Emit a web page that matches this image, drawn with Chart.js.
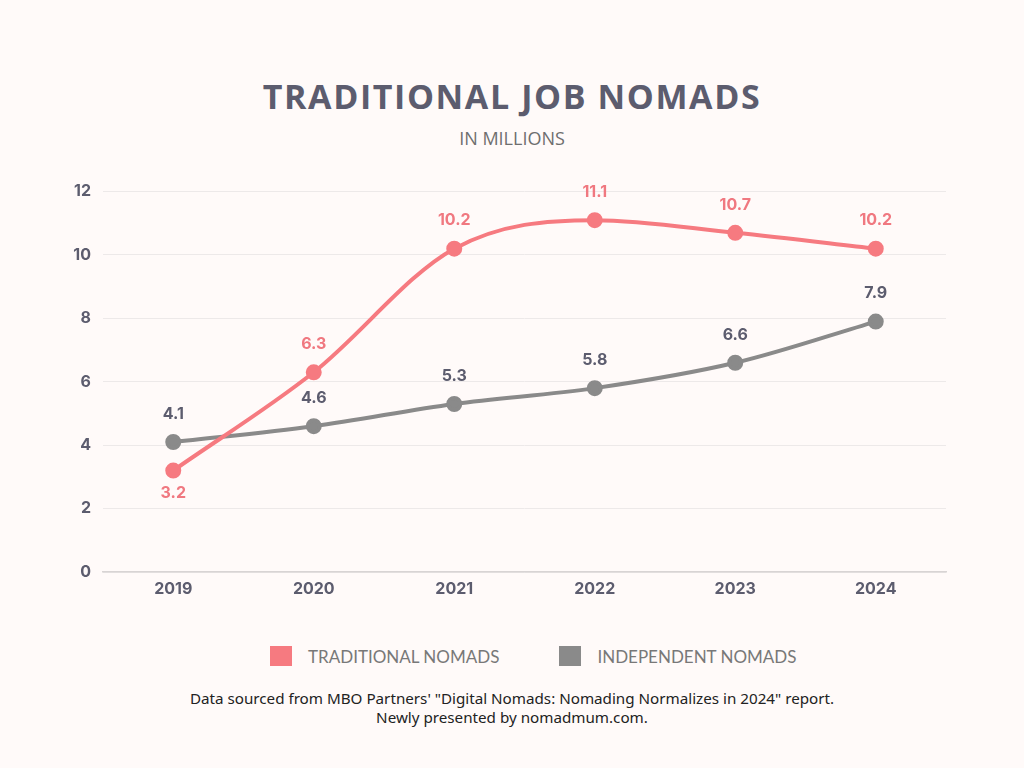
<!DOCTYPE html>
<html>
<head>
<meta charset="utf-8">
<script src="https://cdn.jsdelivr.net/npm/chart.js@4.4.1/dist/chart.umd.min.js"></script>
<style>
  body { margin: 0; width: 1024px; height: 768px; background: #fffaf9; position: relative; overflow: hidden; }
  #title { position: absolute; top: 73px; left: 0; width: 1024px; text-align: center;
    font-family: "Open Sans", sans-serif; font-weight: 700; font-size: 34px; letter-spacing: 1.6px; color: #5c5c6e; }
  #subtitle { position: absolute; top: 126px; left: 0; width: 1024px; text-align: center;
    font-family: "Open Sans", sans-serif; font-size: 18px; color: #6e6e6e; }
  #wrap { position: absolute; top: 170px; left: 0; width: 1024px; height: 452px; }
  #legend { position: absolute; top: 645px; left: 270px; height: 22px; display: flex; align-items: center;
    font-family: Lato, sans-serif; font-size: 17px; color: #787878; }
  #legend .item { display: flex; align-items: center; margin-right: 60px; }
  #legend .box { width: 22px; height: 20px; margin-right: 16px; }
  #footer { position: absolute; top: 689px; left: 0; width: 1024px; text-align: center;
    font-family: "Noto Sans", sans-serif; font-size: 15.2px; line-height: 19px; color: #222; }
</style>
</head>
<body>
<div id="title">TRADITIONAL JOB NOMADS</div>
<div id="subtitle">IN MILLIONS</div>
<div id="wrap"><canvas id="chart"></canvas></div>
<div id="legend"></div>
<div id="footer">Data sourced from MBO Partners' "Digital Nomads: Nomading Normalizes in 2024" report.<br>Newly presented by nomadmum.com.</div>
<script>
const years = ["2019", "2020", "2021", "2022", "2023", "2024"];
const traditional = [3.2, 6.3, 10.2, 11.1, 10.7, 10.2];
const independent = [4.1, 4.6, 5.3, 5.8, 6.6, 7.9];
const yTicks = [0, 2, 4, 6, 8, 10, 12];

const red = "#f67a80";
const gray = "#8a8a8a";
const textDark = "#5c5c6e";

// value labels above points (below for the first red point)
const valueLabels = {
    id: "valueLabels",
    afterDatasetsDraw(chart) {
        const ctx = chart.ctx;
        ctx.save();
        ctx.font = "700 16px Inter, sans-serif";
        ctx.textAlign = "center";
        ctx.textBaseline = "middle";
        chart.data.datasets.forEach((ds, i) => {
            const meta = chart.getDatasetMeta(i);
            meta.data.forEach((pt, j) => {
                ctx.fillStyle = ds.labelColor;
                let y = pt.y - 28;
                if (i === 0 && j === 0) y = pt.y + 23;
                ctx.fillText(ds.data[j].toFixed(1), pt.x, y);
            });
        });
        ctx.restore();
    }
};

const chart = new Chart(document.getElementById("chart"), {
    type: "line",
    data: {
        labels: years,
        datasets: [{
            label: "TRADITIONAL NOMADS",
            data: traditional,
            borderColor: red,
            backgroundColor: red,
            labelColor: "#f07880",
            borderWidth: 4,
            pointRadius: 6,
            pointHoverRadius: 6,
            cubicInterpolationMode: "monotone"
        }, {
            label: "INDEPENDENT NOMADS",
            data: independent,
            borderColor: gray,
            backgroundColor: gray,
            labelColor: textDark,
            borderWidth: 4,
            pointRadius: 6,
            pointHoverRadius: 6,
            cubicInterpolationMode: "monotone"
        }]
    },
    options: {
        responsive: true,
        maintainAspectRatio: false,
        animation: false,
        layout: { padding: { left: 60, right: 78, top: 21, bottom: 0 } },
        scales: {
            x: {
                offset: true,
                grid: { display: false, drawTicks: false },
                border: { color: "#d8d4d4", width: 1.5 },
                ticks: { color: textDark, font: { family: "Inter", size: 16, weight: "700" }, padding: 8 },
                afterFit(scale) { scale.height = 50; }
            },
            y: {
                min: 0,
                max: 12,
                afterBuildTicks(scale) { scale.ticks = yTicks.map(v => ({ value: v })); },
                grid: { color: "#ede9e9", drawTicks: false },
                border: { display: false },
                ticks: { color: textDark, font: { family: "Inter", size: 16, weight: "700" }, padding: 12 },
                afterFit(scale) { scale.width = 43; }
            }
        },
        plugins: {
            legend: { display: false },
            tooltip: { enabled: false }
        }
    },
    plugins: [valueLabels]
});

// legend built from the dataset definitions
const legend = document.getElementById("legend");
chart.data.datasets.forEach(ds => {
    const item = document.createElement("div");
    item.className = "item";
    const box = document.createElement("span");
    box.className = "box";
    box.style.background = ds.backgroundColor;
    item.appendChild(box);
    item.appendChild(document.createTextNode(ds.label));
    legend.appendChild(item);
});
</script>
</body>
</html>
